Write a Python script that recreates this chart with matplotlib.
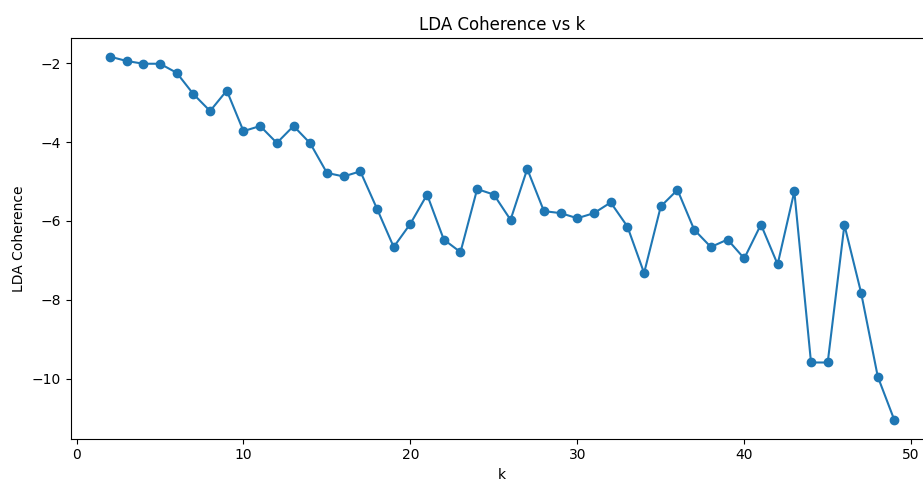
import matplotlib
matplotlib.use("Agg")
import matplotlib.pyplot as plt

k_values = list(range(2, 50))
coherence = [-1.83, -1.94, -2.01, -2.01, -2.24, -2.78, -3.21, -2.69, -3.72, -3.59,
             -4.02, -3.59, -4.03, -4.78, -4.87, -4.74, -5.69, -6.66, -6.07, -5.33,
             -6.47, -6.79, -5.19, -5.33, -5.97, -4.68, -5.75, -5.80, -5.93, -5.80,
             -5.53, -6.14, -7.32, -5.63, -5.21, -6.22, -6.66, -6.47, -6.95, -6.09,
             -7.10, -5.25, -9.59, -9.59, -6.10, -7.82, -9.95, -11.06]

title = "LDA Coherence vs k"
xlabel = "k"
ylabel = "LDA Coherence"

fig = plt.figure(figsize=(9.23, 4.88), dpi=100)
ax = fig.add_axes([0.0766, 0.1012, 0.935, 0.820])
ax.plot(k_values, coherence, marker="o", color="#1f77b4")
ax.set_title(title)
ax.set_xlabel(xlabel)
ax.set_ylabel(ylabel)
fig.savefig("out.png", dpi=100)
